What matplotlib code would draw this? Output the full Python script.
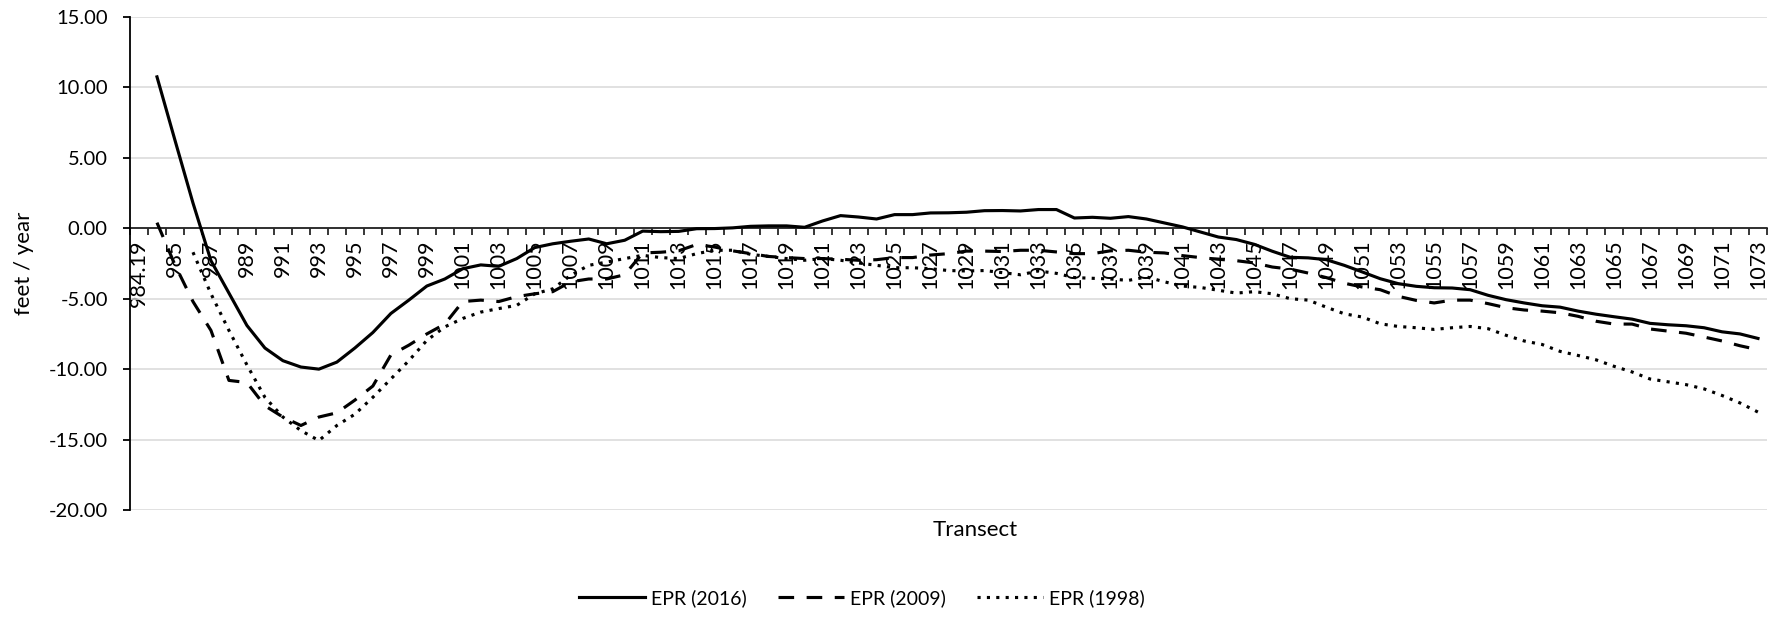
import numpy as np
import matplotlib
matplotlib.use('Agg')
import matplotlib.pyplot as plt

nan = np.nan

# transect categories (the second one is never labelled on the axis)
transects = ["984.19", "984.5"] + [str(t) for t in range(985, 1074)]

epr_2016 = [nan, 10.75, 6.25, 1.8, -2.3, -4.6, -6.9, -8.5, -9.4, -9.85, -10.0,
            -9.5, -8.5, -7.4, -6.05, -5.1, -4.1, -3.6, -2.87, -2.6, -2.7,
            -2.15, -1.37, -1.1, -0.92, -0.76, -1.1, -0.85, -0.2, -0.24, -0.22,
            -0.03, -0.02, 0.03, 0.14, 0.17, 0.17, 0.07, 0.52, 0.9, 0.8,
            0.66, 0.97, 0.97, 1.09, 1.1, 1.14, 1.25, 1.26, 1.23, 1.33,
            1.33, 0.73, 0.78, 0.71, 0.83, 0.66, 0.38, 0.1, -0.26, -0.62,
            -0.8, -1.14, -1.63, -2.06, -2.1, -2.23, -2.63, -3.1, -3.58, -3.93,
            -4.12, -4.22, -4.24, -4.36, -4.76, -5.07, -5.3, -5.5, -5.6, -5.88,
            -6.1, -6.28, -6.45, -6.75, -6.85, -6.92, -7.06, -7.35, -7.5, -7.82]

epr_2009 = [nan, 0.4, -2.6, -5.2, -7.25, -10.8, -10.95, -12.6, -13.4, -14.0, -13.4,
            -13.1, -12.2, -11.2, -9.0, -8.3, -7.5, -6.8, -5.2, -5.1, -5.2,
            -4.85, -4.65, -4.5, -3.8, -3.6, -3.6, -3.3, -1.75, -1.7, -1.6,
            -1.15, -1.33, -1.6, -1.8, -2.0, -2.08, -2.15, -2.15, -2.2, -2.27,
            -2.23, -2.08, -2.08, -1.9, -1.8, -1.62, -1.62, -1.65, -1.56, -1.56,
            -1.68, -1.8, -1.8, -1.6, -1.56, -1.7, -1.75, -1.94, -2.08, -2.2,
            -2.3, -2.46, -2.75, -2.9, -3.18, -3.5, -3.9, -4.17, -4.36, -4.83,
            -5.12, -5.3, -5.1, -5.1, -5.35, -5.64, -5.8, -5.88, -6.0, -6.25,
            -6.6, -6.8, -6.8, -7.15, -7.3, -7.45, -7.72, -8.0, -8.34, -8.62]

epr_1998 = [nan, nan, nan, -1.7, -4.65, -7.25, -9.7, -12.0, -13.4, -14.36, -15.07,
            -14.0, -13.2, -12.0, -10.7, -9.4, -7.96, -7.0, -6.4, -5.95, -5.7,
            -5.47, -4.65, -4.3, -3.34, -2.63, -2.4, -2.15, -1.92, -2.08, -2.15,
            -1.8, -1.56, -1.56, -1.85, -2.0, -2.15, -2.27, -2.15, -2.27, -2.46,
            -2.63, -2.8, -2.8, -2.87, -3.0, -3.03, -3.0, -3.15, -3.3, -3.03,
            -3.2, -3.5, -3.55, -3.6, -3.7, -3.45, -3.8, -4.1, -4.2, -4.4,
            -4.6, -4.5, -4.65, -5.0, -5.1, -5.6, -6.07, -6.3, -6.78, -6.97,
            -7.06, -7.18, -7.06, -6.97, -7.13, -7.6, -8.0, -8.25, -8.74, -9.03,
            -9.34, -9.8, -10.2, -10.7, -10.9, -11.1, -11.4, -11.87, -12.4, -13.05]

plt.rcParams['font.family'] = ['Lato', 'DejaVu Sans']

fig = plt.figure(figsize=(17.79, 6.18), dpi=100)
ax = fig.add_axes([130 / 1779, 1 - 510 / 618, 1637 / 1779, 493 / 618])

x = np.arange(len(transects))
ax.plot(x, epr_2016, color='black', lw=2.25, label='EPR (2016)')
ax.plot(x, epr_2009, color='black', lw=2.25, linestyle=(0, (5, 4)), label='EPR (2009)')
ax.plot(x, epr_1998, color='black', lw=2.25, linestyle=(0, (1, 2)), label='EPR (1998)')

ax.set_xlim(-0.5, len(transects) - 0.5)
ax.set_ylim(-20, 15)
ax.set_yticks(np.arange(-20, 16, 5))
ax.yaxis.set_major_formatter(matplotlib.ticker.FormatStrFormatter('%.2f'))
ax.grid(axis='y', color='#d9d9d9', lw=1.1)
ax.set_axisbelow(True)

# category axis crosses at zero
for s in ['top', 'right']:
    ax.spines[s].set_visible(False)
ax.spines['bottom'].set_position(('data', 0))
ax.spines['bottom'].set_linewidth(1.1)
ax.spines['left'].set_linewidth(1.3)

ax.set_xticks(x[::2])
ax.set_xticklabels(transects[::2], rotation=90)
ax.set_xticks(np.arange(len(transects) + 1) - 0.5, minor=True)
ax.tick_params(axis='x', which='major', length=0, pad=8, labelsize=15.5)
ax.tick_params(axis='x', which='minor', length=5, width=1.1, direction='out')
ax.tick_params(axis='y', length=5, width=1.3, pad=11, labelsize=14.5)

ax.set_ylabel('feet / year', fontsize=16)
ax.yaxis.set_label_coords(-96 / 1637, 0.5)
fig.text(975 / 1779, 1 - 530 / 618, 'Transect', ha='center', va='center', fontsize=16)

fig.legend(loc='center', bbox_to_anchor=(862 / 1779, 1 - 598 / 618), ncol=3,
           frameon=False, fontsize=14, handlelength=3.4, handletextpad=0.3,
           columnspacing=1.6)

fig.savefig('out.png', dpi=100)
